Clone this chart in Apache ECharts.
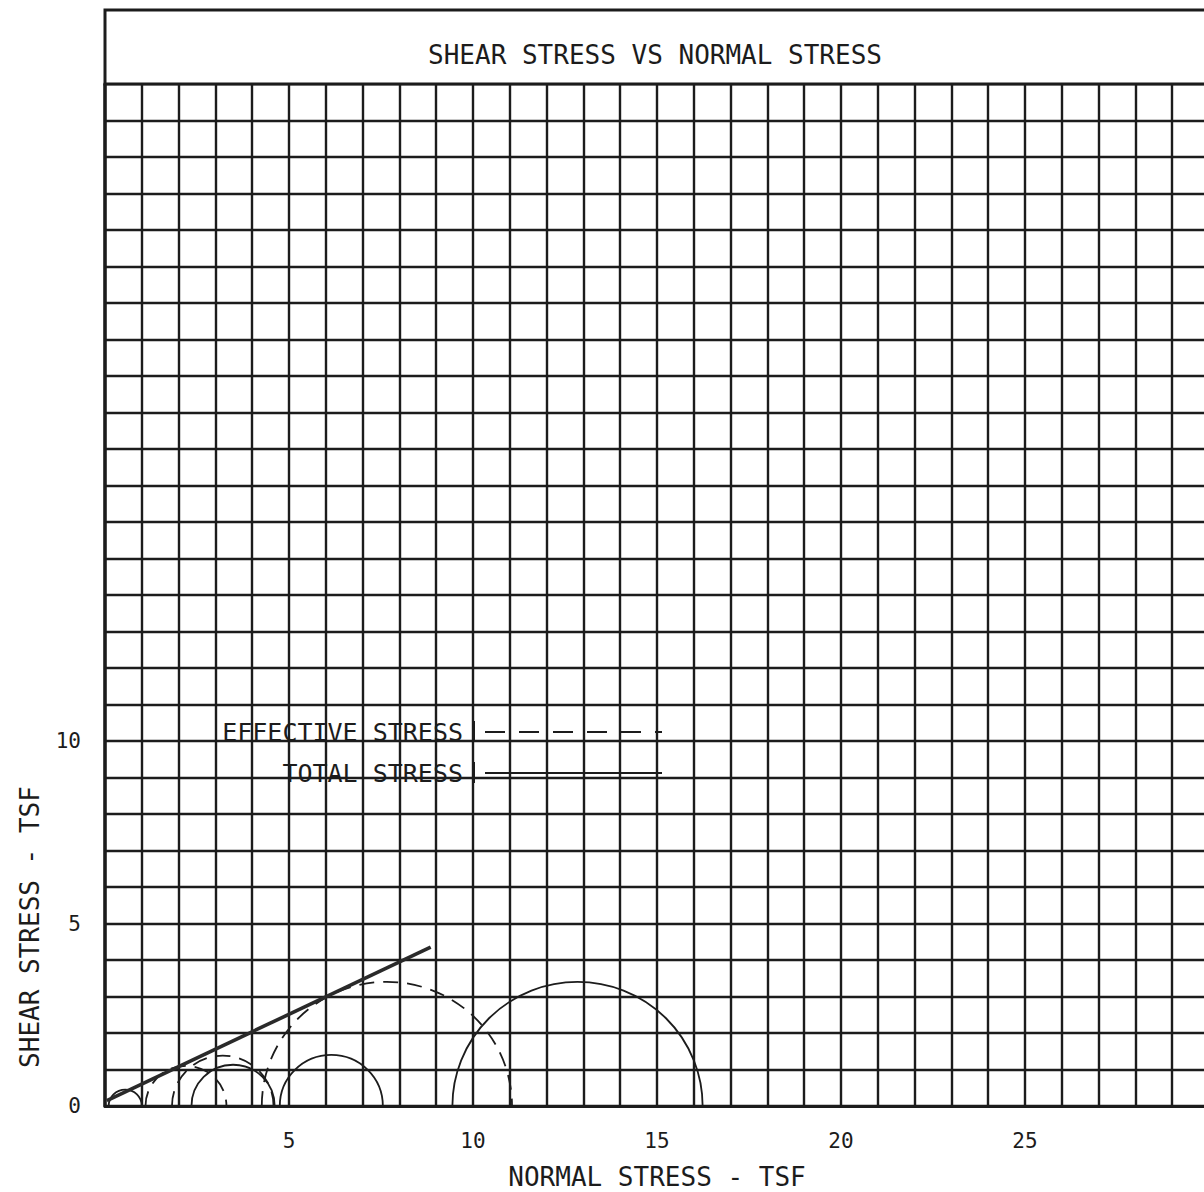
<!DOCTYPE html>
<html>
<head>
<meta charset="utf-8">
<script src="https://cdn.jsdelivr.net/npm/echarts@6/dist/echarts.min.js"></script>
<style>
html,body{margin:0;padding:0;background:#fff;}
#chart{width:1204px;height:1192px;}
</style>
</head>
<body>
<div id="chart"></div>
<script>
// ---- data ----
const titleText = 'SHEAR STRESS VS NORMAL STRESS';
const xAxisName = 'NORMAL STRESS - TSF';
const yAxisName = 'SHEAR STRESS - TSF';
const xTickLabels = [5, 10, 15, 20, 25];
const yTickLabels = [0, 5, 10];
// Mohr circles: [centre, radius] in TSF
const totalCircles = [[0.55, 0.45], [3.48, 1.13], [6.15, 1.40], [12.84, 3.40]];
const effectiveCircles = [[2.20, 1.10], [3.20, 1.38], [7.66, 3.40]];
// failure envelope end points [normal, shear]
const envelope = [[0.05, 0.15], [8.85, 4.35]];
const legendItems = ['EFFECTIVE STRESS', 'TOTAL STRESS'];

const INK = '#1c1c1c';
const MONO = '"DejaVu Sans Mono", "Liberation Mono", monospace';

const chart = echarts.init(document.getElementById('chart'), null, {renderer: 'svg'});

function circleRenderer(dashed) {
  return function (params, api) {
    const c = api.value(0), r = api.value(1);
    const p1 = api.coord([c - r, 0]);
    const p2 = api.coord([c + r, 0]);
    const s = api.size([r, r]);
    return {
      type: 'path',
      shape: {pathData: 'M' + p1[0] + ' ' + p1[1] + ' A' + s[0] + ' ' + s[1] + ' 0 0 1 ' + p2[0] + ' ' + p2[1]},
      style: {fill: 'none', stroke: INK, lineWidth: 1.8, lineDash: dashed ? [15, 9] : null}
    };
  };
}

const option = {
  backgroundColor: '#ffffff',
  animation: false,
  grid: {left: 105, top: 84, right: -5, bottom: 86, containLabel: false, outerBoundsMode: 'none'},
  xAxis: {
    type: 'value', min: 0, max: 30, interval: 1,
    axisLine: {show: true, onZero: false, lineStyle: {color: INK, width: 3}},
    axisTick: {show: false},
    splitLine: {show: true, lineStyle: {color: INK, width: 2.4}},
    axisLabel: {
      margin: 24, color: INK, fontFamily: MONO, fontSize: 21,
      formatter: v => xTickLabels.indexOf(v) >= 0 ? String(v) : ''
    },
    name: xAxisName, nameLocation: 'middle', nameGap: 58,
    nameTextStyle: {color: INK, fontFamily: MONO, fontSize: 26}
  },
  yAxis: {
    type: 'value', min: 0, max: 28, interval: 1,
    axisLine: {show: true, onZero: false, lineStyle: {color: INK, width: 3.5}},
    axisTick: {show: false},
    splitLine: {show: true, lineStyle: {color: INK, width: 2.4}},
    axisLabel: {
      margin: 24, color: INK, fontFamily: MONO, fontSize: 21,
      formatter: v => yTickLabels.indexOf(v) >= 0 ? String(v) : ''
    }
  },
  series: [
    {
      type: 'custom', name: 'TOTAL STRESS', data: totalCircles,
      encode: {x: 0, y: 1}, renderItem: circleRenderer(false), z: 5, clip: true
    },
    {
      type: 'custom', name: 'EFFECTIVE STRESS', data: effectiveCircles,
      encode: {x: 0, y: 1}, renderItem: circleRenderer(true), z: 5, clip: true
    },
    {
      type: 'line', name: 'ENVELOPE', data: envelope, symbol: 'none',
      lineStyle: {color: '#2a2a2a', width: 3.6}, z: 6
    }
  ],
  graphic: [
    {
      type: 'rect', shape: {x: 105, y: 10, width: 1120, height: 74},
      style: {fill: '#fff', stroke: INK, lineWidth: 3}, z: 10
    },
    {
      type: 'text', x: 655, y: 55, z: 11,
      style: {text: titleText, fill: INK, font: '26px ' + MONO, align: 'center', verticalAlign: 'middle'}
    },
    {
      type: 'text', x: 30, y: 927, rotation: Math.PI / 2, z: 11,
      style: {text: yAxisName, fill: INK, font: '26px ' + MONO, align: 'center', verticalAlign: 'middle'}
    },
    // legend
    {
      type: 'text', x: 463, y: 732, z: 11,
      style: {text: legendItems[0], fill: INK, font: '25px ' + MONO, align: 'right', verticalAlign: 'middle', backgroundColor: 'rgba(0,0,0,0)'}
    },
    {
      type: 'text', x: 463, y: 773, z: 11,
      style: {text: legendItems[1], fill: INK, font: '25px ' + MONO, align: 'right', verticalAlign: 'middle'}
    },
    {type: 'line', shape: {x1: 474, y1: 721, x2: 474, y2: 742}, style: {stroke: INK, lineWidth: 2}, z: 11},
    {type: 'line', shape: {x1: 474, y1: 762, x2: 474, y2: 783}, style: {stroke: INK, lineWidth: 2}, z: 11},
    {type: 'line', shape: {x1: 485, y1: 732, x2: 662, y2: 732}, style: {stroke: INK, lineWidth: 2, lineDash: [20, 14]}, z: 11},
    {type: 'line', shape: {x1: 485, y1: 773, x2: 662, y2: 773}, style: {stroke: INK, lineWidth: 2}, z: 11}
  ]
};
chart.setOption(option);
</script>
</body>
</html>
